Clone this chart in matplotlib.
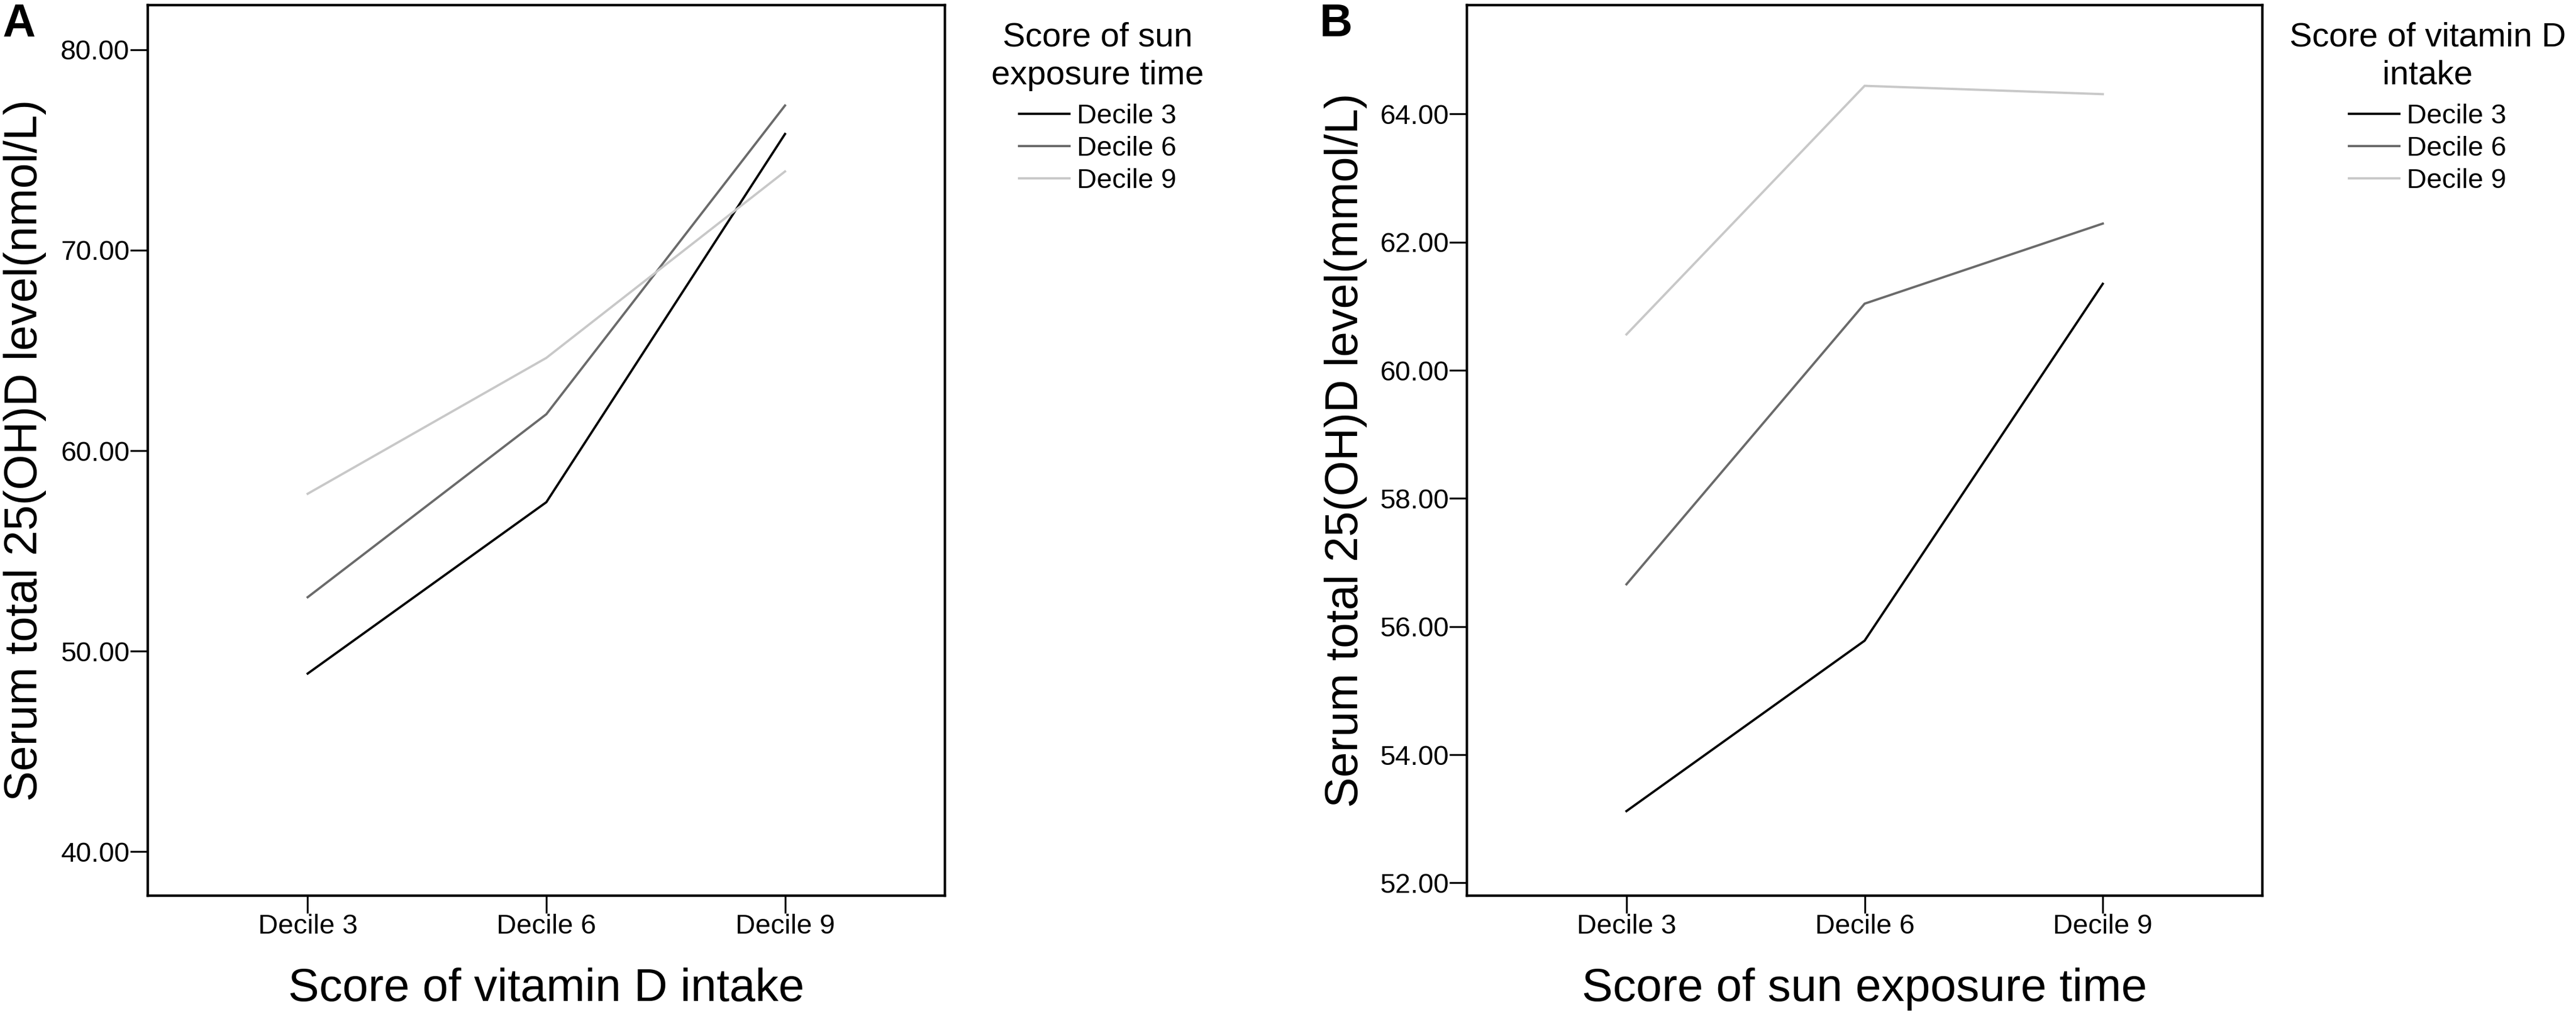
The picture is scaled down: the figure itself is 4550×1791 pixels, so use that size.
import matplotlib
matplotlib.use('Agg')
import matplotlib.pyplot as plt
from matplotlib.ticker import FormatStrFormatter

plt.rcParams['font.family'] = ['Liberation Sans', 'DejaVu Sans']

# categories on the x axis and legend entries
deciles = ['Decile 3', 'Decile 6', 'Decile 9']
series_names = ['Decile 3', 'Decile 6', 'Decile 9']
line_colors = ['#000000', '#6a6a6a', '#c8c8c8']

# panel A : x = vitamin D intake score, lines = sun exposure score
a_dec3 = [48.88, 57.43, 75.80]
a_dec6 = [52.69, 61.82, 77.22]
a_dec9 = [57.85, 64.63, 73.93]
a_yticks = [40, 50, 60, 70, 80]

# panel B : x = sun exposure score, lines = vitamin D intake score
b_dec3 = [53.12, 55.78, 61.35]
b_dec6 = [56.66, 61.04, 62.29]
b_dec9 = [60.56, 64.44, 64.31]
b_yticks = [52, 54, 56, 58, 60, 62, 64]

W, H = 4550, 1791
fig = plt.figure(figsize=(W / 100, H / 100), dpi=100)


def panel(left_px, right_px, series, yticks, ylim, ylabel, xlabel, leg_title,
          leg_cx, letter, letter_x, ylab_x):
    ax = fig.add_axes([left_px / W, (H - 1582) / H, (right_px - left_px) / W, (1582 - 9) / H])
    x = range(len(deciles))
    for vals, name, col in zip(series, series_names, line_colors):
        ax.plot(x, vals, color=col, lw=2.9, label=name, solid_joinstyle='miter')
    ax.set_xlim(-0.67, 2.67)
    ax.set_ylim(*ylim)
    ax.set_xticks(list(x))
    ax.set_xticklabels(deciles)
    ax.set_yticks(yticks)
    ax.yaxis.set_major_formatter(FormatStrFormatter('%.2f'))
    ax.tick_params(direction='out', length=22, width=2.4, pad=1, labelsize=35)
    for s in ax.spines.values():
        s.set_linewidth(3.2)
    ax.set_ylabel(ylabel, fontsize=58)
    ax.yaxis.set_label_coords(ylab_x, 0.5)
    ax.set_xlabel(xlabel, fontsize=59)
    ax.xaxis.set_label_coords(0.5, -0.0807)

    # legend title drawn separately, entries below it
    fig.text(leg_cx / W, 1 - 38 / H, leg_title, fontsize=43, ha='center', va='top',
             multialignment='center', linespacing=1.3)
    ax.legend(loc='upper center', bbox_to_anchor=(leg_cx / W, 1 - 183 / H),
              bbox_transform=fig.transFigure, frameon=False, fontsize=35,
              handlelength=1.83, handletextpad=0.27, labelspacing=0.25,
              borderpad=0, borderaxespad=0)

    fig.text(letter_x / W, 1 - 64 / H, letter, fontsize=58, fontweight='bold',
             ha='left', va='baseline')
    return ax


panel(261, 1669, [a_dec3, a_dec6, a_dec9], a_yticks, (37.80, 82.23),
      'Serum total 25(OH)D level(nmol/L)', 'Score of vitamin D intake',
      'Score of sun\nexposure time', 1939, 'A', 5, -0.127)

panel(2591, 3996, [b_dec3, b_dec6, b_dec9], b_yticks, (51.80, 65.70),
      'Serum total 25(OH)D level(mmol/L)', 'Score of sun exposure time',
      'Score of vitamin D\nintake', 4288, 'B', 2331, -0.125)

fig.savefig('out.png', dpi=100)
